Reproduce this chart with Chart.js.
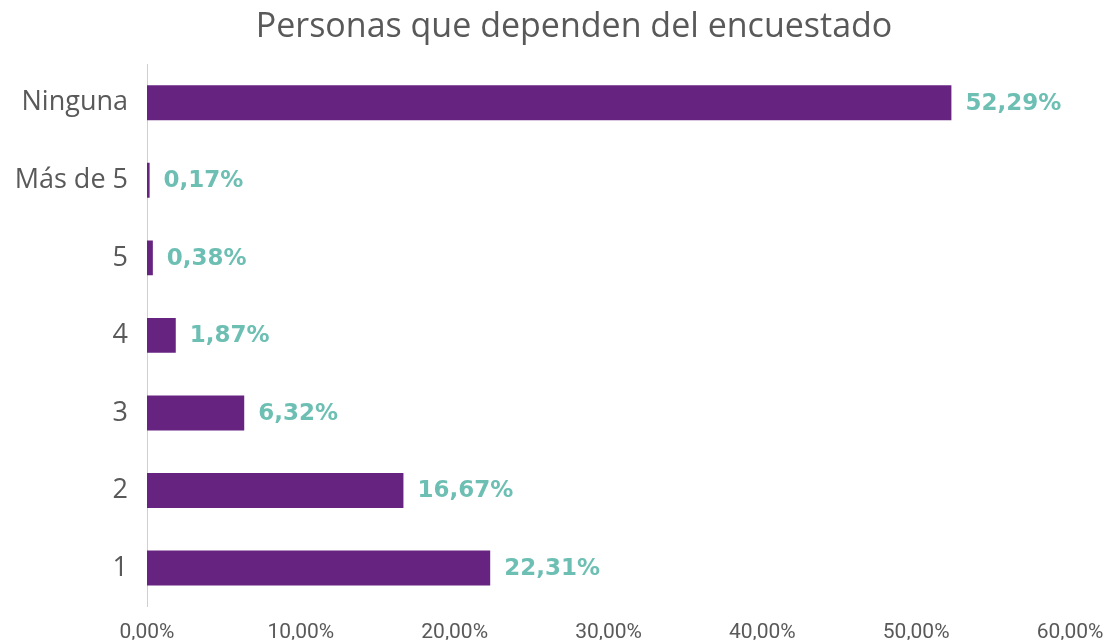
<!doctype html>
<html>
<head>
<meta charset="UTF-8">
<title>Personas que dependen del encuestado</title>
<script src="https://cdn.jsdelivr.net/npm/chart.js@4"></script>
<style>
  html, body { margin: 0; padding: 0; background: #fff; }
  #wrap { width: 1110px; height: 642px; }
</style>
</head>
<body>
<div id="wrap"><canvas id="canvas" width="1110" height="642"></canvas></div>
<script>
var categorias = ["Ninguna", "Más de 5", "5", "4", "3", "2", "1"];
var porcentajes = [52.29, 0.17, 0.38, 1.87, 6.32, 16.67, 22.31];
var ticksX = [0, 10, 20, 30, 40, 50, 60];
var titulo = "Personas que dependen del encuestado";

function fmt(v) {
  return v.toFixed(2).replace(".", ",") + "%";
}

// etiquetas de valor al final de cada barra + título
var etiquetas = {
  id: "etiquetas",
  afterDatasetsDraw: function(chart) {
    var ctx = chart.ctx;
    var meta = chart.getDatasetMeta(0);
    ctx.save();
    ctx.font = "bold 23px 'DejaVu Sans'";
    ctx.fillStyle = "#6dbfb3";
    ctx.textAlign = "left";
    ctx.textBaseline = "middle";
    meta.data.forEach(function(bar, i) {
      ctx.fillText(fmt(porcentajes[i]), bar.x + 14, bar.y + 1);
    });
    // el título va algo desplazado a la derecha en el original
    ctx.font = "34px 'Open Sans'";
    ctx.fillStyle = "#595959";
    ctx.textAlign = "center";
    ctx.fillText(titulo, 574, 27);
    ctx.restore();
  }
};

var ctx = document.getElementById("canvas").getContext("2d");
new Chart(ctx, {
  type: "bar",
  data: {
    labels: categorias,
    datasets: [{
      data: porcentajes,
      backgroundColor: "#662380",
      borderWidth: 0,
      barPercentage: 0.9,
      categoryPercentage: 0.5
    }]
  },
  options: {
    indexAxis: "y",
    responsive: false,
    animation: false,
    layout: { padding: { left: 14, right: 0, top: 64, bottom: 0 } },
    plugins: {
      legend: { display: false },
      tooltip: { enabled: false },
      title: { display: false }
    },
    scales: {
      x: {
        min: 0,
        max: 60,
        afterBuildTicks: function(axis) {
          axis.ticks = ticksX.map(function(v) { return { value: v }; });
        },
        afterFit: function(axis) {
          axis.height = 33;
          axis.paddingRight = 40;
        },
        grid: { display: false, drawTicks: false },
        border: { display: false },
        ticks: {
          color: "#595959",
          font: { family: "'Liberation Sans Narrow', 'Roboto'", size: 21 },
          padding: 13,
          callback: function(v) { return fmt(v); }
        }
      },
      y: {
        afterFit: function(axis) { axis.width = 133; },
        grid: { display: false, drawTicks: false },
        border: { display: true, color: "#d0d0d0", width: 1 },
        ticks: {
          color: "#595959",
          font: { family: "'Open Sans'", size: 27 },
          padding: 19
        }
      }
    }
  },
  plugins: [etiquetas]
});
</script>
</body>
</html>
